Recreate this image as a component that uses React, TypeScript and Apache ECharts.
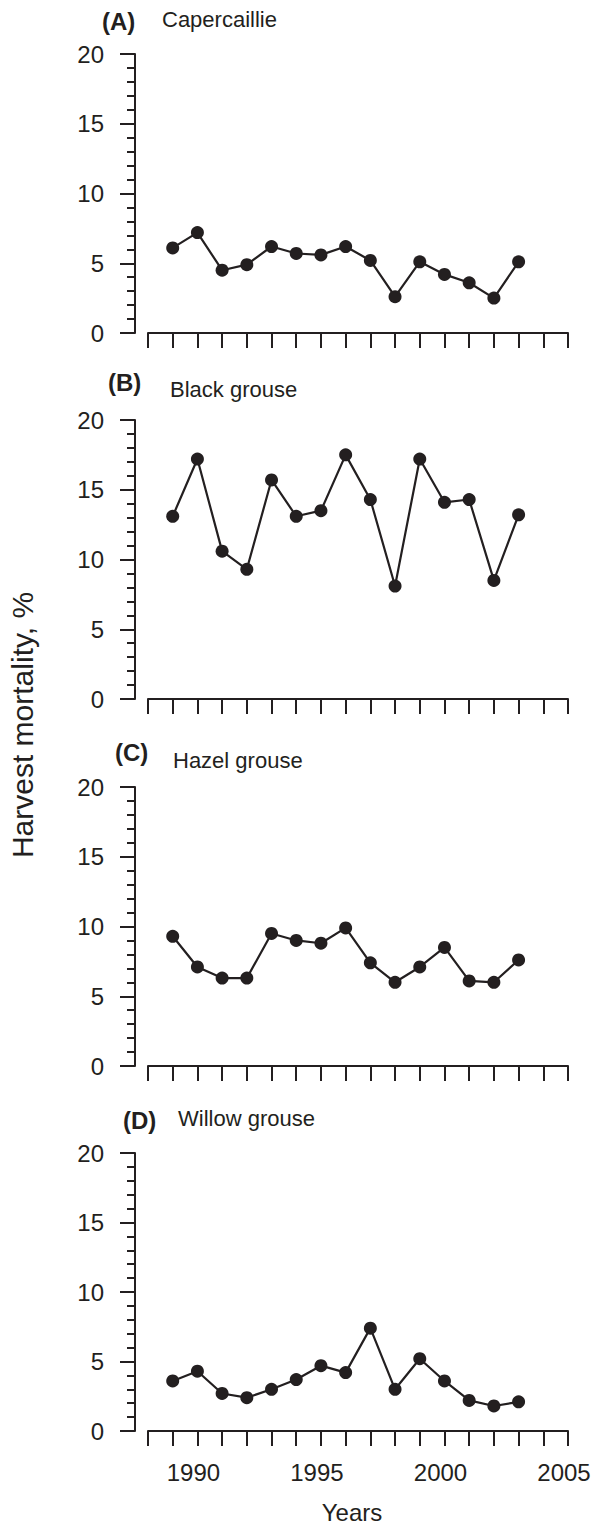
import React, { useEffect, useRef } from "react";
import * as echarts from "echarts";

const years = [1989, 1990, 1991, 1992, 1993, 1994, 1995, 1996, 1997, 1998, 1999, 2000, 2001, 2002, 2003];
const capercaillie = [6.1, 7.2, 4.5, 4.9, 6.2, 5.7, 5.6, 6.2, 5.2, 2.6, 5.1, 4.2, 3.6, 2.5, 5.1];
const blackGrouse = [13.1, 17.2, 10.6, 9.3, 15.7, 13.1, 13.5, 17.5, 14.3, 8.1, 17.2, 14.1, 14.3, 8.5, 13.2];
const hazelGrouse = [9.3, 7.1, 6.3, 6.3, 9.5, 9.0, 8.8, 9.9, 7.4, 6.0, 7.1, 8.5, 6.1, 6.0, 7.6];
const willowGrouse = [3.6, 4.3, 2.7, 2.4, 3.0, 3.7, 4.7, 4.2, 7.4, 3.0, 5.2, 3.6, 2.2, 1.8, 2.1];

const panelLetters = ["(A)", "(B)", "(C)", "(D)"];
const panelNames = ["Capercaillie", "Black grouse", "Hazel grouse", "Willow grouse"];
const yTicks = [0, 5, 10, 15, 20];
const xRange = [1988, 2005];

const INK = "#231f20";
const FONT = "'Liberation Sans', Arial, Helvetica, sans-serif";

export default function App() {
  const ref = useRef<HTMLDivElement>(null);

  useEffect(() => {
    if (!ref.current) return;
    const chart = echarts.init(ref.current, null, { renderer: "svg" });
    const seriesData = [capercaillie, blackGrouse, hazelGrouse, willowGrouse];
    const grids = [
      { top: 54, height: 279 },
      { top: 420, height: 279 },
      { top: 787, height: 279 },
      { top: 1153, height: 278 },
    ];
    const titlePos = [
      { lx: 102, ly: 21, nx: 162, ny: 19 },
      { lx: 108, ly: 382, nx: 170, ny: 389 },
      { lx: 115, ly: 752, nx: 173, ny: 760 },
      { lx: 123, ly: 1120, nx: 178, ny: 1118 },
    ];

    const graphic: any[] = [];
    titlePos.forEach((p, i) => {
      graphic.push({
        type: "text",
        x: p.lx,
        y: p.ly,
        style: {
          text: panelLetters[i],
          font: `bold 24px ${FONT}`,
          fill: INK,
          textAlign: "left",
          textVerticalAlign: "middle",
          align: "left",
          verticalAlign: "middle",
        },
      });
      graphic.push({
        type: "text",
        x: p.nx,
        y: p.ny,
        style: {
          text: panelNames[i],
          font: `22px ${FONT}`,
          fill: INK,
          textAlign: "left",
          textVerticalAlign: "middle",
          align: "left",
          verticalAlign: "middle",
        },
      });
    });
    graphic.push({
      type: "text",
      x: 22,
      y: 725,
      rotation: Math.PI / 2,
      style: {
        text: "Harvest mortality, %",
        font: `30px ${FONT}`,
        fill: INK,
        textAlign: "center",
        textVerticalAlign: "middle",
        align: "center",
        verticalAlign: "middle",
      },
    });
    graphic.push({
      type: "text",
      x: 352,
      y: 1512,
      style: {
        text: "Years",
        font: `24px ${FONT}`,
        fill: INK,
        textAlign: "center",
        textVerticalAlign: "middle",
        align: "center",
        verticalAlign: "middle",
      },
    });

    const option: any = {
      animation: false,
      backgroundColor: "#ffffff",
      grid: grids.map((g) => ({ left: 148, width: 420, top: g.top, height: g.height, containLabel: false })),
      xAxis: grids.map((g, i) => ({
        type: "value",
        gridIndex: i,
        min: xRange[0],
        max: xRange[1],
        interval: 1,
        axisLine: { show: true, onZero: false, lineStyle: { color: INK, width: 2 } },
        axisTick: { show: true, length: 15, inside: false, lineStyle: { color: INK, width: 2 } },
        splitLine: { show: false },
        axisLabel: {
          show: i === 3,
          margin: 29,
          fontSize: 24,
          fontFamily: FONT,
          color: INK,
          padding: [0, 8, 0, 0],
          formatter: (v: number) => (v % 5 === 0 ? String(v) : ""),
        },
      })),
      yAxis: grids.map((g, i) => ({
        type: "value",
        gridIndex: i,
        min: yTicks[0],
        max: yTicks[yTicks.length - 1],
        interval: 5,
        offset: 13,
        axisLine: { show: true, lineStyle: { color: INK, width: 2 } },
        axisTick: { show: true, length: 15, lineStyle: { color: INK, width: 2 } },
        minorTick: { show: true, splitNumber: 5, length: 8, lineStyle: { color: INK, width: 2 } },
        splitLine: { show: false },
        minorSplitLine: { show: false },
        axisLabel: { margin: 31, fontSize: 24, fontFamily: FONT, color: INK },
      })),
      series: seriesData.map((vals, i) => ({
        type: "line",
        xAxisIndex: i,
        yAxisIndex: i,
        data: years.map((y, k) => [y, vals[k]]),
        symbol: "circle",
        symbolSize: 13,
        showSymbol: true,
        lineStyle: { color: INK, width: 2.2 },
        itemStyle: { color: INK },
        emphasis: { disabled: true },
        z: 3,
      })),
      graphic,
    };
    chart.setOption(option);
    return () => chart.dispose();
  }, []);

  return (
    <div
      ref={ref}
      style={{ position: "absolute", left: 0, top: 0, width: 598, height: 1526, background: "#fff" }}
    />
  );
}
